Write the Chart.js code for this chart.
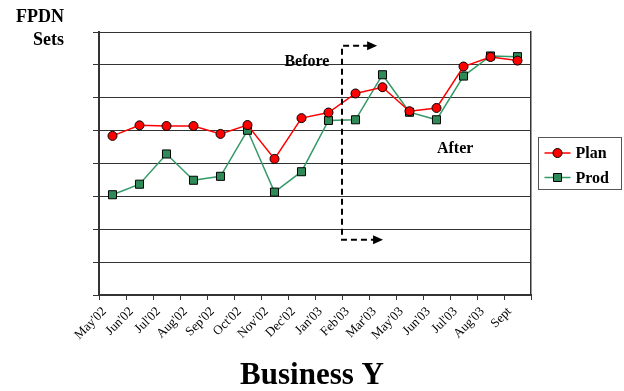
<!DOCTYPE html>
<html><head><meta charset="utf-8">
<script src="https://cdn.jsdelivr.net/npm/chart.js@4"></script>
<style>html,body{margin:0;padding:0;background:#fff;}canvas{display:block;}</style>
</head><body>
<canvas id="c" width="624" height="391"></canvas>
<script>
const categories = ["May'02","Jun'02","Jul'02","Aug'02","Sep'02","Oct'02","Nov'02","Dec'02","Jan'03","Feb'03","Mar'03","May'03","Jun'03","Jul'03","Aug'03","Sept"];
const planValues = [4.84,5.16,5.14,5.14,4.90,5.17,4.14,5.38,5.55,6.13,6.32,5.59,5.69,6.95,7.24,7.13];
const prodValues = [3.05,3.37,4.29,3.49,3.61,5.01,3.13,3.75,5.31,5.33,6.70,5.56,5.33,6.66,7.27,7.25];
const seriesNames = ["Plan","Prod"];
const yAxisLabel = ["FPDN","Sets"];
const chartTitle = "Business Y";
const phaseLabels = ["Before","After"];
const yMin = 0, yMax = 8, yStep = 1;

const SERIF = "'Liberation Serif','Times New Roman',serif";

const annotate = {
  id: 'annotate',
  afterDatasetsDraw(chart) {
    const ctx = chart.ctx, xs = chart.scales.x, ys = chart.scales.y;
    ctx.save();
    ctx.fillStyle = '#000';
    ctx.font = 'bold 16px ' + SERIF;
    ctx.textAlign = 'center';
    ctx.textBaseline = 'alphabetic';
    ctx.fillText(phaseLabels[0], xs.getPixelForValue(7.2), ys.getPixelForValue(6.97));
    ctx.fillText(phaseLabels[1], xs.getPixelForValue(12.69), ys.getPixelForValue(4.31));
    const x0 = xs.getPixelForValue(8.5);
    const yTop = ys.getPixelForValue(7.58), yBot = ys.getPixelForValue(1.68);
    const tipTop = xs.getPixelForValue(9.8), tipBot = xs.getPixelForValue(10.02);
    ctx.strokeStyle = '#000';
    ctx.lineWidth = 2;
    ctx.setLineDash([6, 4]);
    ctx.beginPath();
    ctx.moveTo(tipTop - 8, yTop);
    ctx.lineTo(x0, yTop);
    ctx.lineTo(x0, yBot);
    ctx.lineTo(tipBot - 8, yBot);
    ctx.stroke();
    ctx.setLineDash([]);
    [[tipTop, yTop], [tipBot, yBot]].forEach(([tx, ty]) => {
      ctx.beginPath();
      ctx.moveTo(tx, ty);
      ctx.lineTo(tx - 10, ty - 4.5);
      ctx.lineTo(tx - 10, ty + 4.5);
      ctx.closePath();
      ctx.fill();
    });
    ctx.restore();
  },
  afterDraw(chart) {
    const ctx = chart.ctx, area = chart.chartArea;
    ctx.save();
    ctx.fillStyle = '#000';
    ctx.font = 'bold 18px ' + SERIF;
    ctx.textAlign = 'right';
    ctx.textBaseline = 'alphabetic';
    ctx.fillText(yAxisLabel[0], 64, 22);
    ctx.fillText(yAxisLabel[1], 64, 45);
    const lx = area.right + 7.5, ly = 137.5, lw = 83, lh = 52;
    ctx.strokeStyle = '#555';
    ctx.lineWidth = 1;
    ctx.strokeRect(lx, ly, lw, lh);
    chart.data.datasets.forEach((ds, i) => {
      const cy = 153 + i * 24.5;
      ctx.strokeStyle = ds.borderColor;
      ctx.lineWidth = 1.5;
      ctx.beginPath();
      ctx.moveTo(lx + 6, cy); ctx.lineTo(lx + 32, cy); ctx.stroke();
      const mx = lx + 19;
      ctx.fillStyle = ds.pointBackgroundColor;
      ctx.strokeStyle = '#000';
      ctx.lineWidth = 1;
      ctx.beginPath();
      if (ds.pointStyle === 'rect') {
        ctx.rect(mx - 4, cy - 4, 8, 8);
      } else {
        ctx.arc(mx, cy, 4.5, 0, Math.PI * 2);
      }
      ctx.fill(); ctx.stroke();
      ctx.fillStyle = '#000';
      ctx.font = 'bold 16px ' + SERIF;
      ctx.textAlign = 'left';
      ctx.textBaseline = 'middle';
      ctx.fillText(ds.label, lx + 37, cy + 1);
    });
    ctx.restore();
  }
};

new Chart(document.getElementById('c'), {
  type: 'line',
  data: {
    labels: categories,
    datasets: [
      { label: seriesNames[0], data: planValues, borderColor: '#FF0000', borderWidth: 1.5,
        pointStyle: 'circle', pointRadius: 4.5, pointBackgroundColor: '#FF0000',
        pointBorderColor: '#000', pointBorderWidth: 1, tension: 0 },
      { label: seriesNames[1], data: prodValues, borderColor: '#339966', borderWidth: 1.5,
        pointStyle: 'rect', pointRadius: 5.7, pointBackgroundColor: '#2E8B57',
        pointBorderColor: '#000', pointBorderWidth: 1, tension: 0 }
    ]
  },
  options: {
    responsive: false,
    devicePixelRatio: 1,
    animation: false,
    layout: { autoPadding: false, padding: { left: 93, right: 93, top: 32, bottom: 0 } },
    scales: {
      x: {
        type: 'category', offset: true,
        grid: { offset: true, drawOnChartArea: false, drawTicks: true, tickLength: 5, color: '#333' },
        border: { display: true, color: '#333', width: 2 },
        ticks: { color: '#000', font: { family: SERIF, size: 13 }, minRotation: 45, maxRotation: 45,
                 autoSkip: false, labelOffset: -8, padding: 4 },
        afterFit(s) { s.height = 65; }
      },
      y: {
        min: yMin, max: yMax,
        ticks: { display: false, stepSize: yStep },
        grid: { color: '#333', lineWidth: 1, drawTicks: true, tickLength: 6 },
        border: { display: true, color: '#333', width: 2 },
        afterFit(s) { s.width = 6; }
      },
      y2: {
        position: 'right', min: yMin, max: yMax,
        ticks: { display: false },
        grid: { display: true, drawOnChartArea: false, drawTicks: false },
        border: { display: true, color: '#333', width: 1.5 },
        afterFit(s) { s.width = 0; }
      }
    },
    plugins: {
      legend: { display: false },
      tooltip: { enabled: false },
      title: { display: true, position: 'bottom', text: chartTitle, color: '#000',
               font: { family: SERIF, size: 31, weight: 'bold', lineHeight: 1.0 },
               padding: { top: 0, bottom: 0 } }
    }
  },
  plugins: [annotate]
});
</script>
</body></html>
